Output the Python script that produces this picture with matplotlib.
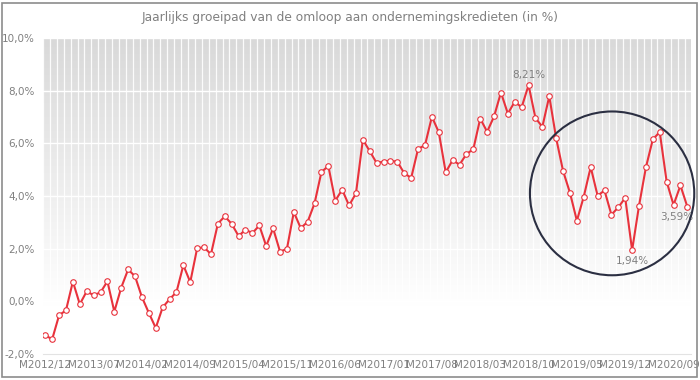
import numpy as np
import matplotlib
matplotlib.use("Agg")
import matplotlib.pyplot as plt
import matplotlib.ticker as ticker
from matplotlib.patches import Ellipse, Rectangle

# jaarlijkse groei omloop ondernemingskredieten, maandelijks M2012/12 .. M2020/09 (in %)
growth = [
    -1.29, -1.44, -0.53, -0.34, 0.75, -0.11, 0.38, 0.23, 0.34, 0.76,
    -0.39, 0.52, 1.21, 0.95, 0.16, -0.44, -1.01, -0.23, 0.08, 0.35,
    1.37, 0.73, 2.02, 2.05, 1.79, 2.95, 3.23, 2.94, 2.48, 2.72,
    2.59, 2.88, 2.10, 2.77, 1.89, 1.99, 3.39, 2.78, 3.02, 3.72,
    4.91, 5.14, 3.82, 4.24, 3.64, 4.10, 6.14, 5.70, 5.25, 5.31,
    5.34, 5.30, 4.86, 4.69, 5.79, 5.93, 7.01, 6.42, 4.90, 5.36,
    5.19, 5.59, 5.78, 6.94, 6.44, 7.02, 7.93, 7.13, 7.58, 7.37,
    8.21, 6.96, 6.63, 7.79, 6.19, 4.95, 4.12, 3.06, 3.98, 5.10,
    4.01, 4.21, 3.29, 3.57, 3.93, 1.94, 3.63, 5.09, 6.15, 6.43,
    4.55, 3.66, 4.40, 3.59,
]
tick_labels = [
    "M2012/12", "M2013/07", "M2014/02", "M2014/09", "M2015/04", "M2015/11",
    "M2016/06", "M2017/01", "M2017/08", "M2018/03", "M2018/10", "M2019/05",
    "M2019/12", "M2020/09",
]
title = "Jaarlijks groeipad van de omloop aan ondernemingskredieten (in %)"

RED = "#e8323c"
GREY = "#808080"


def pct(v, pos=None):
    return f"{v:.1f}%".replace(".", ",")


def pct2(v):
    return f"{v:.2f}%".replace(".", ",")


fig = plt.figure(figsize=(7, 3.8), dpi=100)
ax = fig.add_axes([43 / 700, 1 - 354 / 380, (690.8 - 43) / 700, (354 - 38) / 380])

x = np.arange(len(growth))
ax.set_xlim(-0.33, len(growth) - 0.5)
ax.set_ylim(-2, 10)

# achtergrond: verloop van grijs (boven) naar wit (onder)
grad = np.clip(np.linspace(0, 1, 256) / 0.85, 0, 1)
shade = 0.85 + (1 - 0.85) * grad  # rij 0 = boven
img = np.repeat(shade[:, None, None], 3, axis=2)
ax.imshow(img, extent=[0, 1, 0, 1], transform=ax.transAxes, aspect="auto", zorder=0)

ax.set_axisbelow(True)
ax.yaxis.set_major_locator(ticker.MultipleLocator(2))
ax.yaxis.set_major_formatter(ticker.FuncFormatter(pct))
ax.grid(axis="y", color="white", linewidth=1.0)
ax.xaxis.set_minor_locator(ticker.FixedLocator(x - 0.33))
ax.grid(axis="x", which="minor", color="white", linewidth=0.9, alpha=0.9)

ax.set_xticks(x[::7])
ax.set_xticklabels(tick_labels)
ax.tick_params(axis="both", which="both", length=0, colors=GREY, labelsize=7.5)
ax.tick_params(axis="x", pad=4)
ax.tick_params(axis="y", pad=6)

for s in ["top", "right", "left"]:
    ax.spines[s].set_visible(False)
ax.spines["bottom"].set_color("#e3e3e3")

ax.plot(x, growth, color=RED, linewidth=1.5, marker="o", markersize=4,
        markerfacecolor="white", markeredgecolor=RED, markeredgewidth=0.8, zorder=3)

# labels: piek, dieptepunt na de piek en laatste waarde
imax = int(np.argmax(growth))
imin = imax + int(np.argmin(growth[imax:]))
ilast = len(growth) - 1
ax.annotate(pct2(growth[imax]), (imax, growth[imax]), xytext=(0, 4), textcoords="offset points",
            ha="center", va="bottom", color=GREY, fontsize=7.5)
ax.annotate(pct2(growth[imin]), (imin, growth[imin]), xytext=(0, -4), textcoords="offset points",
            ha="center", va="top", color=GREY, fontsize=7.5)
ax.annotate(pct2(growth[ilast]), (ilast, growth[ilast]), xytext=(-8, -4), textcoords="offset points",
            ha="center", va="top", color=GREY, fontsize=7.5)

# cirkel rond de recente periode
ax.add_patch(Ellipse((82.1, 4.10), 23.8, 6.22, fill=False, edgecolor="#2b2f42",
                     linewidth=1.5, zorder=4, clip_on=False))

fig.text(0.5, 1 - 17 / 380, title, ha="center", va="center", color=GREY, fontsize=8.8)

# kader rond de grafiek
fig.patches.append(Rectangle((2 / 700, 3 / 380), 695 / 700, 374 / 380, transform=fig.transFigure,
                             fill=False, edgecolor="#8c8c8c", linewidth=1.2))

fig.savefig("out.png", dpi=100)
